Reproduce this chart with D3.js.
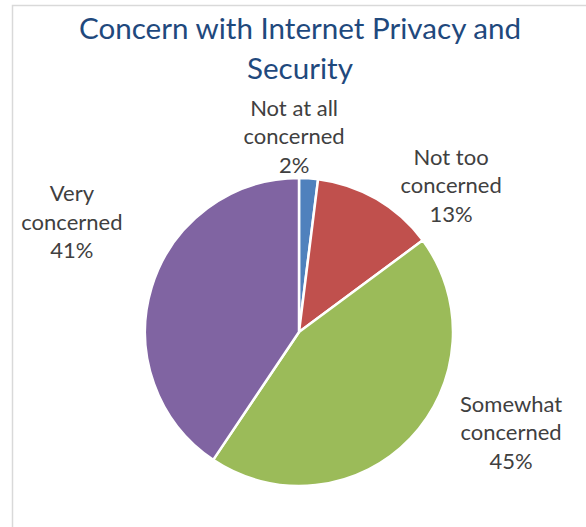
<!DOCTYPE html>
<html>
<head>
<meta charset="utf-8">
<script src="https://cdn.jsdelivr.net/npm/d3@7"></script>
<style>
  body { margin: 0; background: #fff; }
  svg { display: block; }
</style>
</head>
<body>
<svg width="586" height="527"></svg>
<script>
// data
const categories = ["Not at all concerned", "Not too concerned", "Somewhat concerned", "Very concerned"];
const labelLines = [["Not at all", "concerned"], ["Not too", "concerned"], ["Somewhat", "concerned"], ["Very", "concerned"]];
const values = [2, 13, 45, 41];
const colors = ["#4F81BD", "#C0504D", "#9BBB59", "#8064A2"];
const titleLines = ["Concern with Internet Privacy and", "Security"];

// where the labels sit (angle in degrees clockwise from 12 o'clock, distance from centre)
const labelAngle = [-1.5, 47.6, 117, 294.2];
const labelDist = [188, 206, 238, 249];

const svg = d3.select("svg");
const width = +svg.attr("width");
const height = +svg.attr("height");
const cx = 299, cy = 332, r = 154;
const font = "Lato, 'Open Sans', sans-serif";

// chart frame (runs off the right and bottom of the picture)
svg.append("rect")
    .attr("x", 12.5).attr("y", 5.5)
    .attr("width", width).attr("height", height)
    .attr("fill", "#fff")
    .attr("stroke", "#d9d9d9")
    .attr("stroke-width", 1.5);

svg.append("text")
    .attr("x", 300).attr("y", 39)
    .attr("text-anchor", "middle")
    .attr("font-family", font)
    .attr("font-size", 29.6)
    .attr("fill", "#1F497D")
    .selectAll("tspan")
    .data(titleLines)
    .enter().append("tspan")
    .attr("x", 300)
    .attr("dy", (d, i) => i ? 40 : 0)
    .text(d => d);

const pie = d3.pie().sort(null).value(d => d);
const arc = d3.arc().innerRadius(0).outerRadius(r);
const arcs = pie(values);

const g = svg.append("g").attr("transform", `translate(${cx},${cy})`);

g.selectAll("path")
    .data(arcs)
    .enter().append("path")
    .attr("d", arc)
    .attr("fill", (d, i) => colors[i])
    .attr("stroke", "#fff")
    .attr("stroke-width", 2.5)
    .attr("stroke-linejoin", "round");

const label = g.selectAll("text.lbl")
    .data(arcs)
    .enter().append("text")
    .attr("class", "lbl")
    .attr("text-anchor", "middle")
    .attr("font-family", font)
    .attr("font-size", 22)
    .attr("fill", "#404040")
    .attr("transform", (d, i) => {
        const a = labelAngle[i] * Math.PI / 180;
        return `translate(${labelDist[i] * Math.sin(a)},${-labelDist[i] * Math.cos(a)})`;
    });

label.each(function(d, i) {
    const lines = labelLines[i].concat([d3.format(".0%")(values[i] / 100)]);
    d3.select(this).selectAll("tspan")
        .data(lines)
        .enter().append("tspan")
        .attr("x", 0)
        .attr("y", (t, j) => (j - 1) * 28.5)
        .text(t => t);
});
</script>
</body>
</html>
